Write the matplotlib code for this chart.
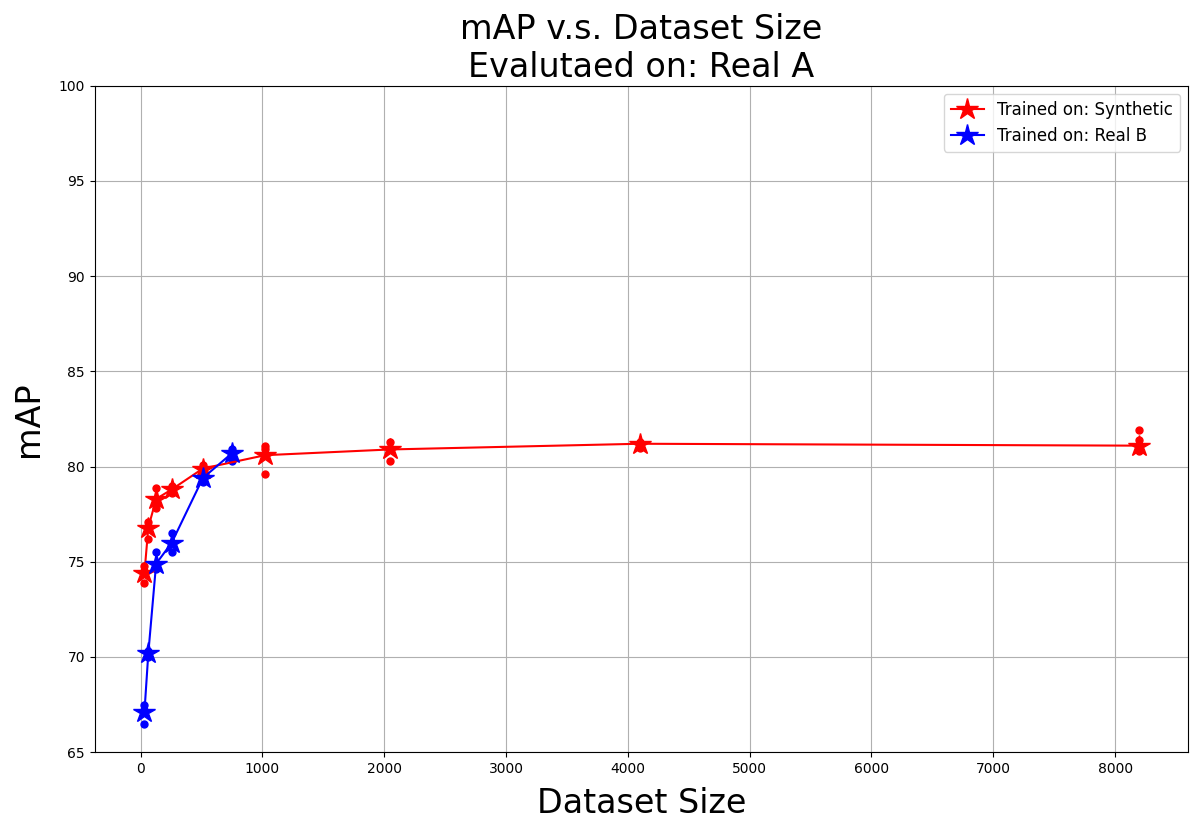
import numpy as np
import matplotlib.pyplot as plt

# mean mAP per dataset size
syn_sizes = [32, 64, 128, 256, 512, 1024, 2048, 4096, 8192]
syn_map = [74.4, 76.8, 78.3, 78.8, 79.9, 80.6, 80.9, 81.2, 81.1]
# individual runs
syn_runs = [[73.9, 74.8, 74.5], [76.2, 77.1, 76.9], [77.8, 78.9, 78.2],
            [78.6, 79.0, 78.8], [79.8, 80.1, 79.9], [79.6, 81.1, 80.9],
            [80.3, 81.3, 81.0], [81.0, 81.3, 81.2], [80.8, 81.9, 81.4]]

real_sizes = [32, 64, 128, 256, 512, 750]
real_map = [67.1, 70.2, 74.9, 76.0, 79.4, 80.7]
real_runs = [[66.5, 67.5, 67.2], [70.0, 70.3, 70.2], [74.6, 75.5, 74.8],
             [75.5, 76.5, 76.0], [79.2, 79.6, 79.4], [80.3, 80.9, 80.7]]


def plot_runs(ax, sizes, runs, c):
    xs = np.repeat(sizes, [len(r) for r in runs])
    ys = np.concatenate(runs)
    ax.plot(xs, ys, 'o', c=c, markersize=5)


fig = plt.figure(figsize=(11.99, 8.33), dpi=100)
ax = fig.add_axes([0.079, 0.097, 0.912, 0.8])

plot_runs(ax, syn_sizes, syn_runs, 'r')
plot_runs(ax, real_sizes, real_runs, 'b')
ax.plot(syn_sizes, syn_map, '-*', c='r', markersize=16, label='Trained on: Synthetic')
ax.plot(real_sizes, real_map, '-*', c='b', markersize=16, label='Trained on: Real B')

ax.set_ylim(65, 100)
ax.grid(True)
ax.set_title('mAP v.s. Dataset Size\nEvalutaed on: Real A', fontsize=24)
ax.set_xlabel('Dataset Size', fontsize=24, labelpad=8)
ax.set_ylabel('mAP', fontsize=24, labelpad=10)
ax.legend(loc='upper right', fontsize=12)

fig.savefig('out.png')
